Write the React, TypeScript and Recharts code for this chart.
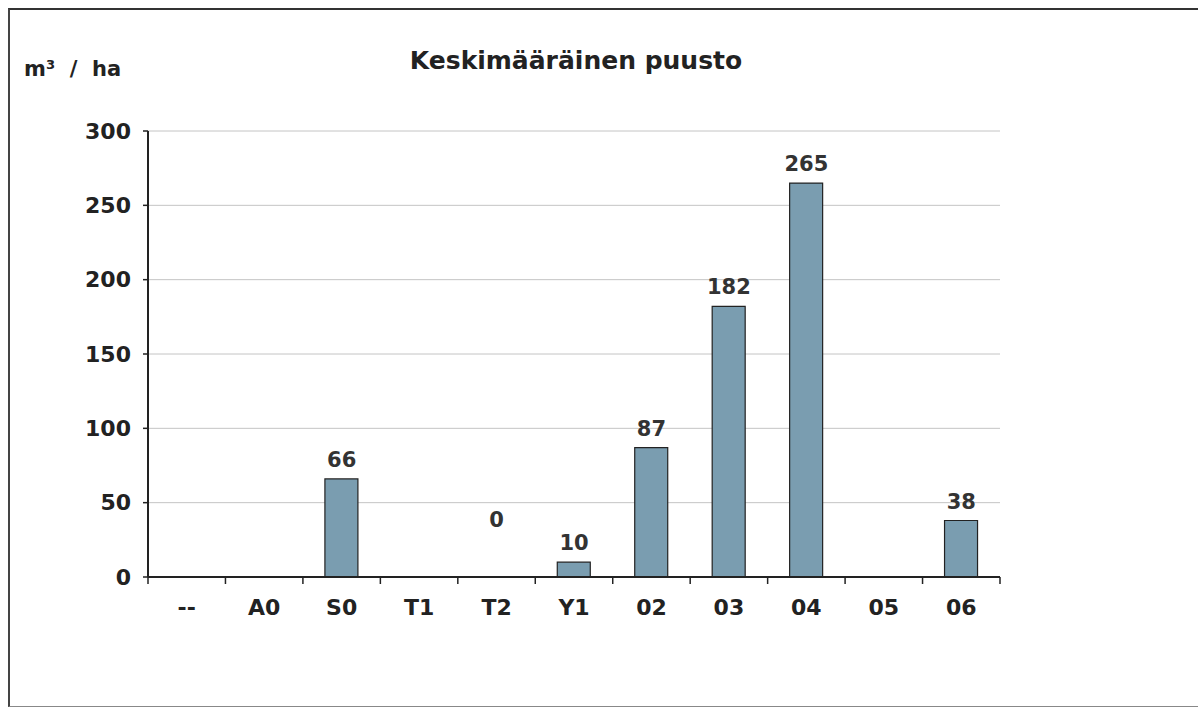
import { ComposedChart, Bar, Line, XAxis, YAxis, CartesianGrid, LabelList } from 'recharts';

const categories = ['--', 'A0', 'S0', 'T1', 'T2', 'Y1', '02', '03', '04', '05', '06'];
const volumes: (number | null)[] = [null, null, 66, null, 0, 10, 87, 182, 265, null, 38];
const yTicks = [0, 50, 100, 150, 200, 250, 300];

const data = categories.map((c, i) => ({ name: c, value: volumes[i] }));

const W = 1198;
const H = 709;
const X_AXIS_H = 60;
const M = { top: 131, right: 198, bottom: H - 577 - X_AXIS_H, left: 0 };
const Y_AXIS_W = 148;
const FONT = '"DejaVu Sans", Verdana, sans-serif';
const INK = '#222';

const step = (W - M.right - M.left - Y_AXIS_W) / categories.length;
const axisY = H - M.bottom - X_AXIS_H;

// category labels plus the boundary tick marks between groups
function CategoryTick({ x, payload, index }: any) {
  const left = x - step / 2;
  return (
    <g>
      <line x1={left} y1={axisY} x2={left} y2={axisY + 7} stroke={INK} strokeWidth={1.5} />
      {index === categories.length - 1 && (
        <line x1={left + step} y1={axisY} x2={left + step} y2={axisY + 7} stroke={INK} strokeWidth={1.5} />
      )}
      <text x={x} y={axisY + 38} textAnchor="middle" fontFamily={FONT} fontWeight="bold" fontSize={22} fill={INK}>
        {payload.value}
      </text>
    </g>
  );
}

// excel lifts the "0" label well clear of the axis
function ValueLabel({ x, y, value }: any) {
  if (value == null) return null;
  const lift = value === 0 ? 50 : 12;
  return (
    <text x={x} y={y - lift} textAnchor="middle" fontFamily={FONT} fontWeight="bold" fontSize={21} fill="#333">
      {value}
    </text>
  );
}

export default function App() {
  return (
    <div style={{ position: 'fixed', left: 0, top: 0, width: W, height: H, background: '#fff' }}>
      <div
        style={{
          position: 'absolute', left: 8, top: 8, width: W, height: 696,
          borderTop: '2px solid #333', borderLeft: '2px solid #444', borderBottom: '1px solid #888',
        }}
      />
      <div style={{ position: 'absolute', left: 0, top: 0 }}>
        <ComposedChart width={W} height={H} data={data} margin={M}>
          <text x={576} y={69} textAnchor="middle" fontFamily={FONT} fontWeight="bold" fontSize={25} fill={INK}>
            Keskimääräinen puusto
          </text>
          <text x={24} y={76} fontFamily={FONT} fontWeight="bold" fontSize={21} fill={INK} style={{ whiteSpace: 'pre' }}>
            {'m³  /  ha'}
          </text>
          <CartesianGrid vertical={false} stroke="#c4c4c4" strokeWidth={1} />
          <XAxis
            dataKey="name"
            tickLine={false}
            axisLine={{ stroke: INK, strokeWidth: 2 }}
            tick={<CategoryTick />}
            interval={0}
            height={X_AXIS_H}
          />
          <YAxis
            width={Y_AXIS_W}
            domain={[0, 300]}
            ticks={yTicks}
            interval={0}
            tickSize={5}
            tickMargin={12}
            tickLine={{ stroke: INK, strokeWidth: 1.5 }}
            axisLine={{ stroke: INK, strokeWidth: 2 }}
            tick={{ fontFamily: FONT, fontWeight: 'bold', fontSize: 22, fill: INK }}
          />
          <Bar dataKey="value" barSize={33} fill="#7a9db0" stroke={INK} strokeWidth={1.2} isAnimationActive={false} />
          <Line dataKey="value" stroke="none" dot={false} activeDot={false} isAnimationActive={false}>
            <LabelList dataKey="value" content={<ValueLabel />} />
          </Line>
        </ComposedChart>
      </div>
    </div>
  );
}
